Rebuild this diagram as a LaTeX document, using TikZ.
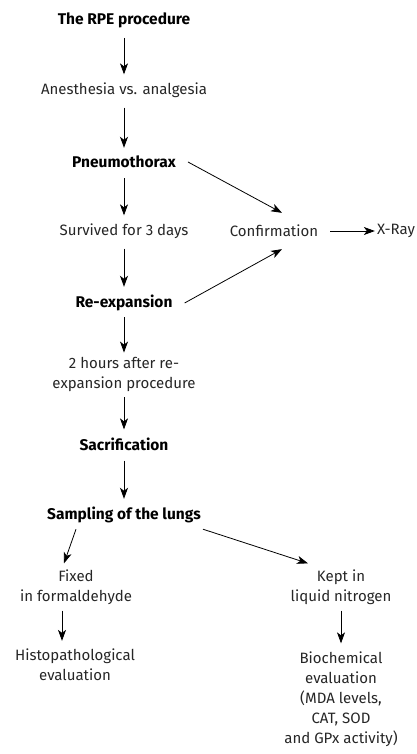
\documentclass[tikz,border=0pt]{standalone}
\usepackage{fontspec}
\setmainfont{Fira Sans}
\usetikzlibrary{arrows.meta}
\begin{document}
\begin{tikzpicture}[x=1pt,y=-1pt]

% size of the text
\def\fs{\fontsize{15}{20}\selectfont}
% node style definition
\tikzstyle{txt} = [
	draw=none, fill=none, inner sep=2pt, align=center,
	text=black!85, font=\fs ];
\tikzstyle{head} = [txt, text=black, font=\fontsize{15.5}{20}\selectfont\bfseries];
\tikzstyle{arr} = [-{Stealth[length=11pt,width=8pt,inset=3pt]}, line width=0.8pt];

\useasboundingbox (0,0) rectangle (416,754);

\node[head] (rpe) at (124,20) {The RPE procedure};
\node[txt] (anes) at (124,90) {Anesthesia vs. analgesia};
\node[head] (pneu) at (124,162) {Pneumothorax};
\node[txt] (surv) at (124,231) {Survived for 3 days};
\node[txt] (conf) at (274,231) {Confirmation};
\node[txt] (xray) at (396,231) {X-Ray};
\node[head] (reexp) at (124,303) {Re-expansion};
\node[txt] (hours) at (124,374) {2 hours after re-\\expansion procedure};
\node[head] (sacr) at (124,444) {Sacrification};
\node[head] (samp) at (124,515) {Sampling of the lungs};
\node[txt] (fixed) at (76,587) {Fixed\\in formaldehyde};
\node[txt] (histo) at (75,665) {Histopathological\\evaluation};
\node[txt] (kept) at (341,587) {Kept in\\liquid nitrogen};
\node[txt] (bioch) at (341,699) {Biochemical\\evaluation\\(MDA levels,\\CAT, SOD\\and GPx activity)};

\draw[arr,shorten <=8pt,shorten >=6pt] (rpe) -- (anes);
\draw[arr,shorten <=8pt,shorten >=6pt] (anes) -- (pneu);
\draw[arr,shorten <=8pt,shorten >=6pt] (pneu) -- (surv);
\draw[arr,shorten <=8pt,shorten >=6pt] (surv) -- (reexp);
\draw[arr,shorten <=4pt,shorten >=2pt] (reexp) -- (hours);
\draw[arr,shorten <=4pt,shorten >=6pt] (hours) -- (sacr);
\draw[arr,shorten <=8pt,shorten >=6pt] (sacr) -- (samp);

\draw[arr] ([xshift=10pt]pneu.east) -- ([xshift=8pt,yshift=10pt]conf.north);
\draw[arr] ([xshift=10pt]reexp.east) -- ([xshift=8pt,yshift=-10pt]conf.south);
\draw[arr,shorten <=10pt] (conf) -- (xray);

\draw[arr] ([xshift=-48pt,yshift=-4pt]samp.south) -- ([xshift=-12pt,yshift=4pt]fixed.north);
\draw[arr] ([yshift=-4pt]samp.south east) -- ([xshift=-33pt,yshift=4pt]kept.north);
\draw[arr,shorten <=4pt,shorten >=6pt] ([xshift=-14pt]fixed.south) -- ([xshift=-13pt]histo.north);
\draw[arr,shorten <=4pt,shorten >=6pt] (kept) -- (bioch);

\end{tikzpicture}
\end{document}
